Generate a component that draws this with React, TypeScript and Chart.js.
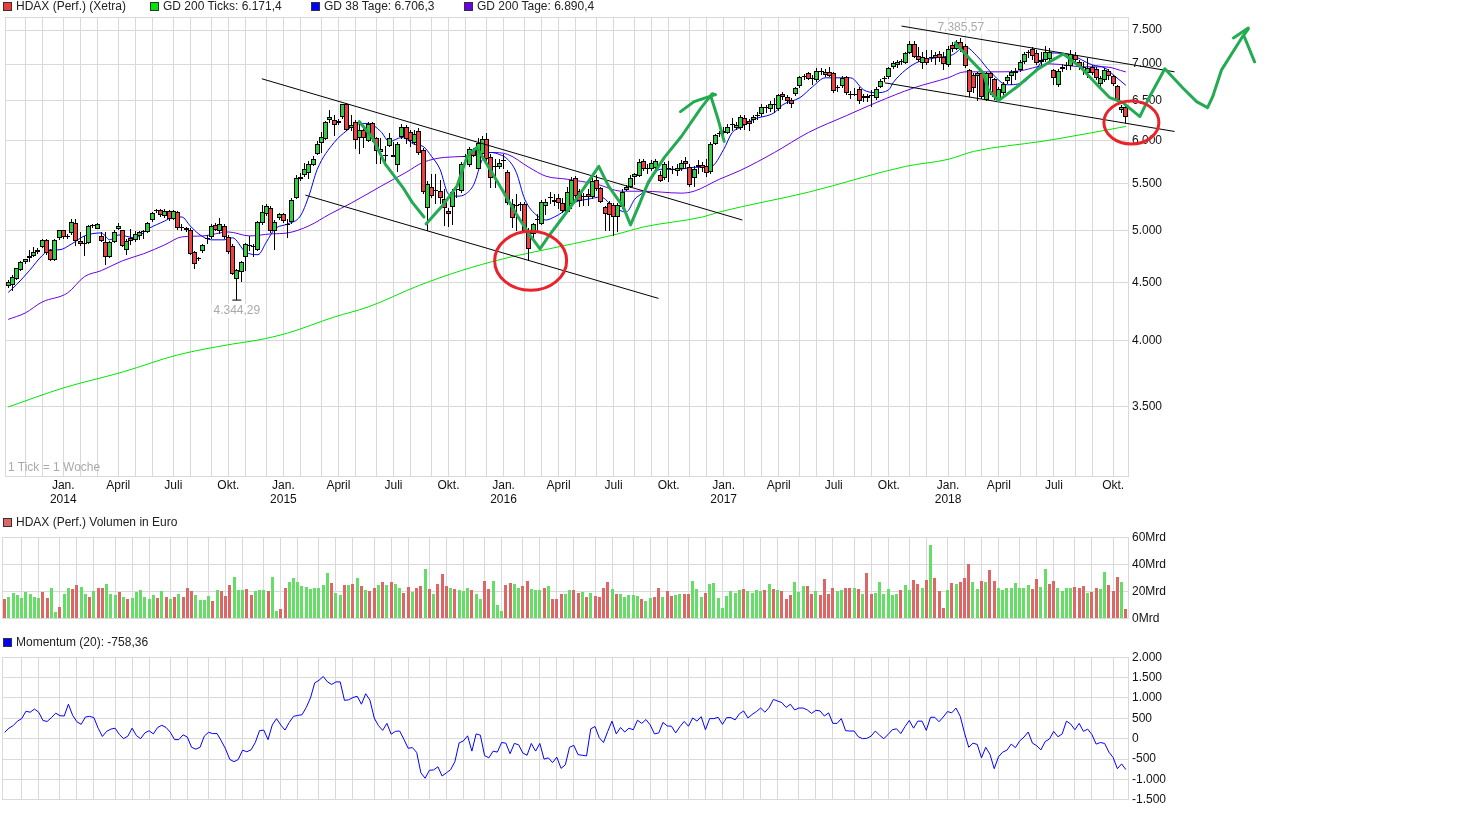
import { useEffect, useRef } from "react";
import { Chart, registerables } from "chart.js";

Chart.register(...registerables);

const FONT = "'Liberation Sans', Arial, sans-serif";
const GRID = "#d9d9d9";
const TEXT = "#111111";

// week index 0 is the first candle, 264 the last one
const weekMin = -0.64;
const weekMax = 264.5;
const monthWeeks = [4, 8, 13, 17, 21, 26, 30, 34, 39, 43, 48, 52, 56, 61, 65, 69, 74, 78, 82, 87, 91, 95, 100, 104, 108, 113, 117, 122, 126, 130, 134, 139, 143, 148, 152, 156, 161, 165, 169, 174, 178, 182, 187, 191, 195, 200, 204, 208, 213, 217, 222, 226, 230, 234, 239, 243, 247, 252, 256, 261];
const quarterWeeks = [13, 26, 39, 52, 65, 78, 91, 104, 117, 130, 143, 156, 169, 182, 195, 208, 222, 234, 247, 261];
const quarterLabels = [["Jan.", "2014"], "April", "Juli", "Okt.", ["Jan.", "2015"], "April", "Juli", "Okt.", ["Jan.", "2016"], "April", "Juli", "Okt.", ["Jan.", "2017"], "April", "Juli", "Okt.", ["Jan.", "2018"], "April", "Juli", "Okt."];

const priceTicks = [3044, 3500, 4000, 4500, 5000, 5500, 6000, 6500, 7000, 7500, 7700];
const priceLabels = ["", "3.500", "4.000", "4.500", "5.000", "5.500", "6.000", "6.500", "7.000", "7.500", ""];
const volumeTicks = [0, 20, 40, 60];
const volumeLabels = ["0Mrd", "20Mrd", "40Mrd", "60Mrd"];
const momentumTicks = [-1500, -1000, -500, 0, 500, 1000, 1500, 2000];
const momentumLabels = ["-1.500", "-1.000", "-500", "0", "500", "1.000", "1.500", "2.000"];

const opens = [
  4472, 4477, 4531, 4613, 4688, 4730, 4749, 4787, 4835, 4904,
  4803, 4707, 4924, 5003, 4934, 4974, 5073, 4897, 4874, 4877,
  5043, 5019, 4943, 4884, 4739, 4890, 5013, 5003, 4812, 4924,
  4910, 4943, 4986, 4990, 5105, 5204, 5208, 5147, 5198, 5115,
  5188, 5036, 5023, 5009, 4787, 4726, 4797, 4917, 4934, 5060,
  4996, 5050, 4937, 4851, 4534, 4598, 4739, 4848, 4848, 4812,
  5073, 5167, 5236, 4996, 5125, 5167, 5064, 5084, 5342, 5544,
  5599, 5622, 5713, 5836, 5971, 6019, 6254, 6249, 6216, 6291,
  6454, 6154, 6224, 6027, 6124, 5990, 6212, 6027, 5864, 5817,
  5930, 5805, 5713, 6044, 6167, 6100, 5971, 6112, 5883, 5229,
  5455, 5418, 5418, 5328, 5204, 5240, 5436, 5411, 5812, 5705,
  5883, 5667, 5832, 6019, 5805, 5694, 5690, 5756, 5629, 5275,
  5264, 5275, 5275, 5006, 4963, 5118, 5064, 5257, 5345, 5320,
  5345, 5282, 5194, 5275, 5555, 5418, 5364, 5382, 5346, 5536,
  5444, 5240, 5285, 5264, 5136, 5240, 5428, 5461, 5570, 5581,
  5751, 5674, 5667, 5678, 5592, 5566, 5670, 5659, 5640, 5667,
  5754, 5690, 5566, 5708, 5708, 5697, 5625, 5959, 6084, 6096,
  6092, 6195, 6154, 6154, 6279, 6237, 6249, 6308, 6327, 6407,
  6394, 6450, 6394, 6594, 6555, 6506, 6590, 6701, 6828, 6874,
  6805, 6782, 6896, 6896, 6896, 6874, 6674, 6691, 6814, 6581,
  6590, 6660, 6538, 6538, 6568, 6538, 6684, 6805, 6819, 6958,
  6984, 7033, 7023, 7166, 7292, 7118, 7023, 7089, 7085, 7132,
  7142, 7099, 6990, 7277, 7223, 7326, 7262, 6920, 6851, 6829,
  6880, 6515, 6874, 6792, 6515, 6603, 6759, 6828, 6874, 6920,
  7037, 7171, 7219, 7166, 7033, 7061, 7071, 6916, 6714, 6930,
  6976, 6967, 7132, 7037, 6948, 6874, 6958, 6930, 6728, 6782,
  6910, 6828, 6701, 6376, 6420,
];
const closes = [
  4507, 4552, 4635, 4692, 4716, 4749, 4787, 4812, 4904, 4774,
  4707, 4904, 5003, 4934, 4950, 5090, 4897, 4867, 4867, 5043,
  5050, 5064, 4900, 4739, 4884, 4990, 5050, 4851, 4900, 4897,
  4963, 4983, 4996, 5077, 5177, 5198, 5157, 5198, 5115, 5198,
  5023, 5029, 5006, 4771, 4673, 4720, 4854, 4912, 5050, 5009,
  5070, 4937, 4787, 4580, 4613, 4692, 4867, 4843, 4838, 5084,
  5194, 5257, 4993, 5090, 5167, 5095, 5057, 5314, 5561, 5577,
  5659, 5720, 5782, 5959, 6043, 6224, 6291, 6191, 6241, 6459,
  6133, 6195, 6007, 6124, 6023, 6204, 6019, 5871, 5891, 5809,
  6031, 5828, 5959, 6167, 6011, 5990, 6080, 5844, 5400, 5491,
  5364, 5411, 5335, 5229, 5167, 5400, 5428, 5716, 5805, 5891,
  5813, 5971, 6019, 5774, 5555, 5688, 5736, 5751, 5285, 5125,
  5259, 5270, 4999, 4819, 5064, 5113, 5293, 5293, 5340, 5300,
  5285, 5198, 5400, 5539, 5364, 5306, 5346, 5346, 5529, 5436,
  5293, 5173, 5160, 5136, 5264, 5407, 5455, 5566, 5603, 5743,
  5659, 5667, 5736, 5754, 5529, 5716, 5665, 5653, 5674, 5736,
  5716, 5484, 5667, 5685, 5670, 5614, 5959, 6060, 6078, 6112,
  6167, 6189, 6195, 6291, 6195, 6208, 6291, 6302, 6420, 6400,
  6463, 6444, 6577, 6551, 6493, 6463, 6670, 6814, 6823, 6792,
  6798, 6910, 6892, 6851, 6841, 6624, 6667, 6805, 6603, 6574,
  6581, 6493, 6568, 6568, 6561, 6656, 6768, 6798, 6944, 7018,
  7033, 7026, 7158, 7292, 7108, 7061, 7099, 7014, 7108, 7085,
  7085, 7004, 7223, 7214, 7321, 7214, 6967, 6616, 6670, 6874,
  6555, 6874, 6805, 6555, 6656, 6728, 6819, 6886, 6906, 7037,
  7142, 7164, 7118, 7023, 7061, 7171, 7171, 6800, 6910, 6958,
  6969, 7142, 7061, 6958, 6962, 6944, 6874, 6805, 6805, 6920,
  6837, 6728, 6506, 6420, 6291,
];
const highs = [
  4522, 4567, 4640, 4700, 4723, 4812, 4835, 4829, 4917, 4917,
  4819, 4917, 5006, 5006, 4966, 5118, 5118, 4986, 4950, 5057,
  5067, 5077, 4986, 4983, 4897, 5006, 5077, 5006, 4917, 5016,
  4996, 5000, 5006, 5087, 5190, 5222, 5222, 5222, 5212, 5212,
  5201, 5067, 5036, 5026, 4800, 4742, 4867, 4956, 5067, 5077,
  5128, 5067, 4956, 4867, 4629, 4704, 4877, 4946, 4867, 5098,
  5264, 5275, 5254, 5108, 5180, 5180, 5118, 5339, 5592, 5614,
  5728, 5751, 5809, 5987, 6108, 6245, 6385, 6321, 6270, 6463,
  6476, 6321, 6258, 6245, 6170, 6233, 6233, 6047, 6023, 5927,
  6096, 5975, 5975, 6208, 6195, 6133, 6133, 6146, 5903, 5525,
  5603, 5603, 5536, 5436, 5233, 5436, 5480, 5739, 5832, 5915,
  5903, 6035, 6059, 6096, 5832, 5774, 5774, 5832, 5648, 5328,
  5382, 5296, 5296, 5026, 5077, 5170, 5317, 5328, 5400, 5382,
  5382, 5339, 5458, 5570, 5581, 5436, 5393, 5436, 5570, 5592,
  5458, 5254, 5306, 5285, 5285, 5436, 5480, 5592, 5614, 5774,
  5774, 5716, 5762, 5774, 5636, 5739, 5751, 5693, 5716, 5762,
  5797, 5716, 5693, 5762, 5739, 5774, 5975, 6084, 6121, 6170,
  6208, 6283, 6233, 6321, 6321, 6270, 6321, 6359, 6463, 6450,
  6502, 6541, 6594, 6620, 6581, 6541, 6687, 6836, 6864, 6892,
  6851, 6948, 6948, 6934, 6962, 6892, 6714, 6836, 6836, 6634,
  6674, 6687, 6594, 6594, 6647, 6687, 6796, 6836, 6962, 7047,
  7061, 7075, 7175, 7336, 7336, 7248, 7175, 7204, 7204, 7175,
  7190, 7175, 7262, 7321, 7351, 7385.57, 7292, 6934, 6880, 6890,
  6906, 6892, 6892, 6810, 6687, 6755, 6851, 6920, 6948, 7061,
  7175, 7204, 7248, 7204, 7175, 7262, 7233, 6934, 6934, 7004,
  7033, 7204, 7175, 7061, 7033, 7089, 6990, 6962, 6836, 6948,
  6934, 6851, 6714, 6450, 6450,
];
const lows = [
  4453, 4423, 4520, 4605, 4676, 4692, 4740, 4771, 4829, 4760,
  4700, 4700, 4907, 4917, 4917, 4956, 4848, 4848, 4749, 4867,
  5026, 5016, 4887, 4667, 4730, 4877, 5006, 4835, 4762, 4858,
  4887, 4907, 4917, 4976, 5087, 5180, 5137, 5128, 5098, 5108,
  5006, 4996, 4986, 4762, 4622, 4704, 4780, 4867, 4917, 4996,
  4966, 4917, 4771, 4574, 4344.29, 4510, 4611, 4797, 4739, 4797,
  5053, 5147, 4976, 4812, 5108, 5077, 4924, 5067, 5328, 5525,
  5577, 5547, 5693, 5825, 5847, 5999, 6220, 6051, 6195, 6270,
  6109, 6109, 5891, 5840, 5903, 5975, 5975, 5716, 5716, 5693,
  5915, 5797, 5625, 6019, 5951, 5915, 5939, 5820, 5382, 4999,
  5339, 5275, 5275, 5050, 5033, 5057, 5339, 5389, 5774, 5682,
  5797, 5659, 5809, 5739, 5447, 5444, 5659, 5659, 5264, 5026,
  4999, 5201, 4996, 4697, 4917, 4976, 5057, 5160, 5275, 5254,
  5222, 5177, 5177, 5222, 5328, 5243, 5254, 5254, 5328, 5414,
  5285, 4996, 4996, 4950, 4986, 5222, 5414, 5447, 5480, 5570,
  5636, 5603, 5636, 5636, 5514, 5536, 5514, 5603, 5581, 5636,
  5659, 5458, 5458, 5603, 5625, 5570, 5603, 5939, 6047, 6060,
  6072, 6121, 6133, 6133, 6133, 6121, 6220, 6258, 6295, 6347,
  6359, 6347, 6372, 6515, 6463, 6411, 6568, 6674, 6782, 6782,
  6714, 6755, 6851, 6818, 6818, 6607, 6620, 6674, 6581, 6528,
  6568, 6463, 6489, 6489, 6424, 6515, 6674, 6755, 6796, 6934,
  6948, 6990, 7004, 7146, 7089, 7033, 6934, 6990, 7033, 6990,
  7033, 6920, 6962, 7175, 7204, 7175, 6948, 6555, 6600, 6500,
  6528, 6502, 6581, 6515, 6502, 6581, 6728, 6714, 6782, 6892,
  7004, 7089, 7061, 6990, 6976, 7033, 7033, 6714, 6687, 6892,
  6920, 6920, 7033, 6920, 6851, 6805, 6851, 6782, 6687, 6755,
  6782, 6700, 6489, 6347, 6220,
];

// moving averages as [week, value]
const gd38: [number, number][] = [
  [0, 4412], [2, 4483], [5, 4611], [8, 4752], [10, 4809], [12, 4809], [15, 4867], [18, 4946], [22, 4976], [24, 4907],
  [26, 4956], [30, 4927], [33, 5016], [37, 5098], [39, 5139], [41, 5139], [43, 5047], [45, 4966], [48, 4907], [51, 4907],
  [53, 4927], [56, 4790], [59, 4762], [61, 4887], [63, 5016], [66, 5067], [69, 5149], [71, 5360], [73, 5659], [77, 5975],
  [80, 6121], [82, 6195], [85, 6208], [88, 6109], [90, 5987], [93, 6035], [96, 5951], [98, 5927], [100, 5809], [102, 5659],
  [104, 5382], [106, 5360], [108, 5382], [110, 5491], [112, 5774], [114, 5855], [116, 5832], [118, 5774], [120, 5625], [122, 5328],
  [125, 5149], [127, 5108], [129, 5139], [131, 5191], [134, 5296], [137, 5328], [140, 5350], [143, 5243], [146, 5191], [148, 5328],
  [150, 5403], [154, 5659], [158, 5659], [162, 5682], [166, 5690], [169, 5891], [171, 6096], [173, 6158], [176, 6258], [181, 6347],
  [183, 6450], [187, 6541], [190, 6688], [193, 6809], [197, 6809], [199, 6809], [202, 6647], [205, 6607], [208, 6647], [209, 6741],
  [212, 6920], [215, 7033], [219, 7089], [223, 7132], [226, 7248], [229, 7104], [232, 6892], [236, 6714], [240, 6755], [243, 6948],
  [246, 7160], [251, 7132], [256, 6990], [259, 6948], [261, 6851], [264, 6706.3],
];
const gd200Tage: [number, number][] = [
  [0, 4178], [4, 4232], [8, 4327], [14, 4407], [18, 4555], [22, 4611], [27, 4704], [32, 4771], [37, 4858], [41, 4936],
  [46, 4946], [52, 4986], [57, 4946], [62, 4966], [66, 4976], [71, 5047], [76, 5170], [81, 5285], [88, 5468], [94, 5625],
  [98, 5739], [103, 5797], [108, 5809], [114, 5855], [118, 5832], [123, 5682], [127, 5581], [132, 5547], [139, 5491], [145, 5414],
  [150, 5414], [159, 5393], [162, 5414], [168, 5547], [173, 5648], [181, 5855], [189, 6096], [198, 6308], [205, 6476], [214, 6674],
  [222, 6809], [226, 6892], [234, 6892], [239, 6906], [243, 6962], [246, 7004], [254, 6962], [259, 6962], [264, 6890.4],
];
const gd200Ticks: [number, number][] = [
  [0, 3500], [13, 3637], [27, 3756], [40, 3888], [53, 3975], [59, 4007], [66, 4064], [77, 4198], [85, 4284], [97, 4474],
  [107, 4611], [117, 4723], [130, 4838], [144, 4966], [150, 5036], [164, 5139], [168, 5191], [189, 5403], [212, 5693], [222, 5774],
  [228, 5867], [244, 5987], [247, 6011], [264, 6171.4],
];

const volumes = [
  14.8, 16.1, 18.9, 17.5, 15.5, 19.5, 18.2, 16.1, 15.5, 19.5,
  15.5, 22.3, 5.2, 8.6, 18.2, 23, 21.6, 25, 23.6, 18.2,
  16.1, 20.2, 22.3, 23, 25.7, 18.2, 17.5, 19.5, 16.1, 14.8,
  15.5, 19.5, 20.9, 16.1, 14.8, 17.5, 15.5, 20.2, 16.1, 14.8,
  16.1, 18.2, 16.1, 22.3, 20.2, 17.5, 14.1, 14.1, 16.8, 13.4,
  20.9, 20.2, 16.8, 25, 31.1, 20.9, 20.9, 21.6, 17.5, 20.2,
  20.9, 20.9, 20.2, 30.5, 5.9, 7.3, 22.3, 27, 29.8, 27,
  24.3, 23.6, 21.6, 23, 23, 25, 33.9, 26.4, 18.9, 17.5,
  25, 25, 25.7, 29.8, 24.3, 20.9, 20.2, 23, 25, 27,
  25, 27, 25.7, 22.3, 18.9, 23.6, 19.5, 22.3, 24.3, 36.6,
  21.6, 18.2, 25.7, 33.2, 24.3, 23, 21.6, 20.9, 20.2, 23,
  20.9, 18.2, 14.8, 27.7, 21.6, 27.7, 10, 5.9, 25, 26.4,
  25.7, 22.3, 24.3, 27.7, 21.6, 20.9, 20.9, 23, 24.3, 14.8,
  14.8, 18.2, 18.2, 20.9, 20.9, 18.9, 19.5, 16.1, 18.9, 16.8,
  16.1, 22.3, 27, 21.6, 18.2, 18.2, 16.1, 17.5, 17.5, 16.8,
  14.8, 13.4, 15.5, 16.1, 23, 16.1, 20.2, 16.8, 17.5, 18.2,
  18.2, 18.2, 27.7, 21.6, 16.1, 18.9, 25.7, 26.4, 15.5, 8,
  16.8, 20.2, 18.9, 20.9, 21.6, 20.2, 18.9, 20.9, 20.2, 20.9,
  25.7, 21.6, 20.9, 20.2, 14.8, 17.5, 27, 19.5, 24.3, 24.3,
  18.2, 20.2, 17.5, 29, 18.2, 23, 20.2, 20.9, 23, 23,
  22.3, 21.6, 18.2, 33.9, 18.2, 18.9, 27, 18.2, 21.6, 17.5,
  18.2, 20.9, 25, 20.9, 28.4, 25.7, 22.3, 28.4, 54.3, 29.8,
  20.2, 8, 20.9, 26.4, 25.7, 27, 29.8, 40, 27, 21.6,
  27.7, 27, 36, 27.7, 22.3, 20.9, 23, 23, 26.4, 22.3,
  23, 25, 21.6, 29, 23.6, 36.6, 25.7, 27.7, 23, 20.2,
  22.3, 23, 23.6, 23, 24.3, 18.9, 19.5, 22.3, 21.6, 34.5,
  25, 20.2, 30.5, 27, 7.3,
];
// G / R per week, the volume colour does not always follow the candle
const volumeSides = (
  "RGGGGGGGGR" + "RGGRGGRRGG" + "RGRRGGGRGR" + "GGGGGGRGRG" + "RGRRRGGGGR" +
  "GRRRGGGRRG" + "GGRGGRRGGG" + "GGGGGGGRGG" + "RGRGRGRRGR" + "GRGGRRGRRG" +
  "RGRRRGRGGG" + "RGGRRGGGRR" + "GGRRGGGRGR" + "RRGGRRGRGR" + "RRRGRGGGGG" +
  "RGGRRGRRGG" + "RRGGGRGGGG" + "GGGGRGGGGR" + "GRGRRRGGGR" + "RGRRRRGGRR" +
  "GRGRRGGGGG" + "GRGGRRGRGR" + "RRGRGRRRGG" + "RGRRGGGGGG" + "GGRRGGRRGG" +
  "GGRRRGRRGG" + "RRRGR"
).split("");

const momentum = [
  157, 258, 321, 431, 493, 673, 650, 728, 650, 446,
  423, 517, 626, 564, 556, 846, 572, 415, 352, 532,
  548, 517, 258, 55, 180, 235, 258, 102, 0, 63,
  258, 78, 0, 141, 196, 117, 274, 329, 274, 157,
  -23, -23, 94, 39, -211, -258, -211, 63, 157, 125,
  125, -55, -251, -509, -564, -509, -282, -321, -274, -94,
  196, 211, -23, 337, 493, 337, 211, 399, 548, 572,
  587, 767, 1002, 1370, 1433, 1527, 1394, 1331, 1394, 1394,
  940, 955, 1010, 1041, 846, 1104, 947, 509, 321, 204,
  376, 110, 180, 188, -16, -235, -219, -337, -838, -971,
  -775, -767, -689, -916, -838, -760, -564, -102, -55, 70,
  -305, 117, 86, -415, -470, -305, -329, -94, -110, -368,
  -117, -149, -352, -407, -117, -305, -117, -501, -470, -587,
  -454, -728, -642, -211, -164, -391, -407, -423,
  243, 298, 23, -94, 180, 431, 117, 274, 164, 258,
  219, 454, 376, 470, 337, 117, 141, 399, 313, 305,
  141, 298, 423, 305, 509, 431, 540, 219, 493, 493,
  525, 352, 517, 517, 462, 611, 681, 509, 595, 666,
  752, 650, 767, 963, 924, 885, 767, 846, 705, 752,
  752, 705, 619, 697, 681, 556, 634, 376, 376, 493,
  196, 188, 188, 47, 0, 8, 63, 188, 86, 0,
  102, 219, 243, 125, 298, 446, 258, 431, 431, 204,
  525, 525, 415, 532, 666, 634, 752, 548, 141, -211,
  -110, -141, -470, -211, -384, -736, -446, -329, -282, -133,
  -219, -55, 39, 164, -110, -172, -274, -70, -8, 180,
  47, 117, 431, 360, 219, 376, 180, 235, 102, -133,
  -94, -117, -329, -462, -736, -619, -758.36,
];

// drawn-in trend channels as [week, value]
const trendLines: [number, number][][] = [
  [[59.9, 6796], [173.4, 5108]],
  [[70.2, 5371], [153.6, 4359]],
  [[211, 7560], [275.5, 6892]],
  [[207, 6741], [275.5, 6109]],
];
// hand-drawn green strokes as [week, value], the last ones leave the plot on the right
const handStrokes: [number, number][][] = [
  [[82.9, 6233], [86, 6035], [89.1, 5716], [91.2, 5581], [93.5, 5436], [95.4, 5296], [98.2, 5139]],
  [[98.7, 5067], [102.5, 5254], [106, 5469], [108.4, 5809], [110.7, 5915], [113.5, 5682], [116.6, 5436], [119.7, 5191], [123, 4966], [125.6, 4819], [127.7, 4946], [130.7, 5118], [134.7, 5360], [139.5, 5693], [141.8, 5469], [145.3, 5243], [147, 5057], [148.9, 5254], [151.2, 5514], [155, 5797], [159, 6047], [163.7, 6411], [166.3, 6594], [167, 6581]],
  [[158.8, 6359], [162, 6489], [167, 6581]],
  [[166, 6555], [167.7, 6258], [169.1, 5987]],
  [[223.7, 7307], [227.3, 7061], [230.3, 6878], [231.5, 6647], [233.9, 6502], [238.3, 6687], [243, 6920], [246.8, 7061], [249.2, 7146], [253.2, 6962], [257.2, 6714], [260.2, 6541], [263.3, 6476], [267.3, 6296], [269.6, 6554], [273.2, 6934], [277.4, 6674], [280.7, 6489], [283.3, 6411], [284.5, 6554], [286.6, 6920], [291.5, 7395], [292.9, 7515]],
  [[289.4, 7380], [292.9, 7530]],
  [[292, 7395], [294.4, 7033]],
];
// red rings: week, value, x radius and y radius in pixels
const rings = [
  [123.4, 4704, 36, 29.5],
  [265.3, 6220, 27.5, 21.5],
];
// extreme value labels: week, value, text, pixel offset
const extremes: [number, number, string, number][] = [
  [54, 4344.29, "4.344,29", 11],
  [225, 7385.57, "7.385,57", -10],
];

const legendTop = [
  { x: 3, color: "#ee3c3c", text: "HDAX (Perf.) (Xetra)" },
  { x: 150, color: "#00e600", text: "GD 200 Ticks: 6.171,4" },
  { x: 311, color: "#0000ff", text: "GD 38 Tage: 6.706,3" },
  { x: 464, color: "#6a00e6", text: "GD 200 Tage: 6.890,4" },
];

const pairs = (list: [number, number][]) => list.map(([x, y]) => ({ x, y }));

const weekAxis = (withLabels: boolean) => ({
  type: "linear",
  offset: false,
  grid: { color: GRID, offset: false, drawTicks: withLabels, tickLength: 1, tickColor: GRID },
  border: { color: GRID },
  ticks: {
    display: withLabels,
    autoSkip: false,
    maxRotation: 0,
    padding: 2,
    color: TEXT,
    font: { family: FONT, size: 12, lineHeight: 1.17 },
    callback: (v: number) => {
      const at = quarterWeeks.indexOf(v);
      return at >= 0 ? quarterLabels[at] : "";
    },
  },
  // min and max are set here, not as options, so the strokes past the right edge are kept
  afterBuildTicks: (s: any) => {
    s.min = weekMin;
    s.max = weekMax;
    s.ticks = [weekMin, ...monthWeeks, weekMax].map((value) => ({ value }));
  },
  afterFit: (s: any) => {
    s.height = withLabels ? 34 : 0;
  },
});

const valueAxis = (type: string, ticks: number[], labels: string[]) => ({
  type,
  position: "right",
  min: ticks[0],
  max: ticks[ticks.length - 1],
  beginAtZero: false,
  grid: { color: GRID, drawTicks: false },
  border: { color: GRID },
  ticks: {
    autoSkip: false,
    padding: 4,
    color: TEXT,
    font: { family: FONT, size: 12 },
    callback: (v: number) => labels[ticks.indexOf(v)] ?? "",
  },
  afterBuildTicks: (s: any) => {
    s.ticks = ticks.map((value) => ({ value }));
  },
  afterFit: (s: any) => {
    s.width = 44;
  },
});

// puts bars on whole pixels so they stay sharp like in the original
const snapBars = {
  id: "snapBars",
  afterDatasetsUpdate(chart: any) {
    chart.data.datasets.forEach((_: any, i: number) => {
      const meta = chart.getDatasetMeta(i);
      if (meta.type !== "bar") return;
      meta.data.forEach((el: any) => {
        el.x = Math.floor(el.x) + (el.width % 2 ? 0.5 : 0);
        el.y = Math.round(el.y);
        el.base = Math.round(el.base);
        if (el.y === el.base) el.y = el.base - 1;
      });
    });
  },
};

const extremeLabels = {
  id: "extremeLabels",
  beforeDatasetsDraw(chart: any) {
    const { ctx, scales } = chart;
    ctx.save();
    ctx.font = `12px ${FONT}`;
    ctx.textAlign = "center";
    ctx.textBaseline = "middle";
    extremes.forEach(([week, value, text, dy]) => {
      const x = scales.x.getPixelForValue(week);
      const y = scales.y.getPixelForValue(value) + dy;
      const w = ctx.measureText(text).width;
      ctx.fillStyle = "#ffffff";
      ctx.fillRect(x - w / 2 - 2, y - 7, w + 4, 14);
      ctx.fillStyle = "#aaaaaa";
      ctx.fillText(text, x, y);
    });
    ctx.restore();
  },
};

const redRings = {
  id: "redRings",
  afterDatasetsDraw(chart: any) {
    const { ctx, scales } = chart;
    ctx.save();
    ctx.strokeStyle = "#e9232b";
    ctx.lineWidth = 3;
    rings.forEach(([week, value, rx, ry]) => {
      ctx.beginPath();
      ctx.ellipse(scales.x.getPixelForValue(week), scales.y.getPixelForValue(value), rx, ry, 0, 0, Math.PI * 2);
      ctx.stroke();
    });
    ctx.restore();
  },
};

const baseOptions = {
  responsive: false,
  animation: false,
  events: [],
  plugins: { legend: { display: false }, tooltip: { enabled: false } },
  layout: { padding: { left: 2, right: 300, top: 8, bottom: 8 } },
};

const movingAverage = (list: [number, number][], color: string) => ({
  type: "line",
  data: pairs(list),
  borderColor: color,
  borderWidth: 1,
  pointRadius: 0,
  cubicInterpolationMode: "monotone",
  order: 4,
});

const priceConfig = () => ({
  type: "bar",
  data: {
    datasets: [
      ...handStrokes.map((stroke) => ({
        type: "line",
        data: pairs(stroke),
        borderColor: "#22ab50",
        borderWidth: 3,
        borderCapStyle: "round",
        borderJoinStyle: "round",
        pointRadius: 0,
        clip: false,
        order: 0,
      })),
      ...trendLines.map((line) => ({
        type: "line",
        data: pairs(line),
        borderColor: "#000000",
        borderWidth: 1,
        pointRadius: 0,
        clip: false,
        order: 1,
      })),
      {
        type: "line",
        data: [{ x: 54, y: lows[54] }],
        showLine: false,
        pointStyle: "line",
        pointRadius: 4.5,
        pointBorderColor: "#000000",
        pointBorderWidth: 1,
        order: 2,
      },
      {
        data: opens.map((o, i) => ({ x: i, y: [o, closes[i]] })),
        backgroundColor: opens.map((o, i) => (closes[i] >= o ? "#2fd03f" : "#ef3f3f")),
        borderColor: "#000000",
        borderWidth: 1,
        borderSkipped: false,
        inflateAmount: 0,
        barThickness: 5,
        grouped: false,
        order: 2,
      },
      {
        data: highs.map((h, i) => ({ x: i, y: [lows[i], h] })),
        backgroundColor: "#000000",
        borderWidth: 0,
        inflateAmount: 0,
        barThickness: 1,
        grouped: false,
        order: 3,
      },
      movingAverage(gd38, "#0000ff"),
      movingAverage(gd200Tage, "#6a00e6"),
      movingAverage(gd200Ticks, "#00e600"),
    ],
  },
  options: {
    ...baseOptions,
    layout: { padding: { left: 2, right: 300, top: 17, bottom: 0 } },
    scales: { x: weekAxis(true), y: valueAxis("logarithmic", priceTicks, priceLabels) },
  },
  plugins: [snapBars, extremeLabels, redRings],
});

const volumeConfig = () => ({
  type: "bar",
  data: {
    datasets: [
      {
        data: volumes.map((y, x) => ({ x, y })),
        backgroundColor: volumeSides.map((s) => (s === "G" ? "#66dd66" : "#dd6666")),
        inflateAmount: 0,
        borderWidth: 0,
        barThickness: 3,
      },
    ],
  },
  options: {
    ...baseOptions,
    scales: { x: weekAxis(false), y: valueAxis("linear", volumeTicks, volumeLabels) },
  },
  plugins: [snapBars],
});

const momentumConfig = () => ({
  type: "line",
  data: {
    datasets: [
      {
        data: momentum.map((y, x) => ({ x, y })),
        borderColor: "#0000ff",
        borderWidth: 1,
        pointRadius: 0,
      },
    ],
  },
  options: {
    ...baseOptions,
    scales: { x: weekAxis(false), y: valueAxis("linear", momentumTicks, momentumLabels) },
  },
});

function Panel({ top, height, config }: { top: number; height: number; config: () => any }) {
  const canvasRef = useRef<HTMLCanvasElement | null>(null);

  useEffect(() => {
    if (!canvasRef.current) return;
    const chart = new Chart(canvasRef.current, config());
    return () => chart.destroy();
  }, [config]);

  return <canvas ref={canvasRef} width={1472} height={height} style={{ position: "absolute", left: 0, top, display: "block" }} />;
}

function Legend({ x, y, color, text }: { x: number; y: number; color: string; text: string }) {
  return (
    <>
      <span style={{ position: "absolute", left: x, top: y - 4, width: 7, height: 7, background: color, border: "1px solid #333" }} />
      <span style={{ position: "absolute", left: x + 13, top: y - 7, font: `12px/14px ${FONT}`, color: "#222", whiteSpace: "nowrap" }}>{text}</span>
    </>
  );
}

export default function App() {
  return (
    <div style={{ position: "absolute", left: 0, top: 0, width: 1472, height: 815, background: "#fff", overflow: "hidden" }}>
      <Panel top={0} height={510} config={priceConfig} />
      <Panel top={526} height={104} config={volumeConfig} />
      <Panel top={646} height={165} config={momentumConfig} />
      {legendTop.map((l) => (
        <Legend key={l.text} x={l.x} y={6} color={l.color} text={l.text} />
      ))}
      <Legend x={3} y={522} color="#dd6666" text="HDAX (Perf.) Volumen in Euro" />
      <Legend x={3} y={642} color="#0000ff" text="Momentum (20): -758,36" />
      <span style={{ position: "absolute", left: 8, top: 460, font: `12px/14px ${FONT}`, color: "#aaaaaa" }}>1 Tick = 1 Woche</span>
    </div>
  );
}
